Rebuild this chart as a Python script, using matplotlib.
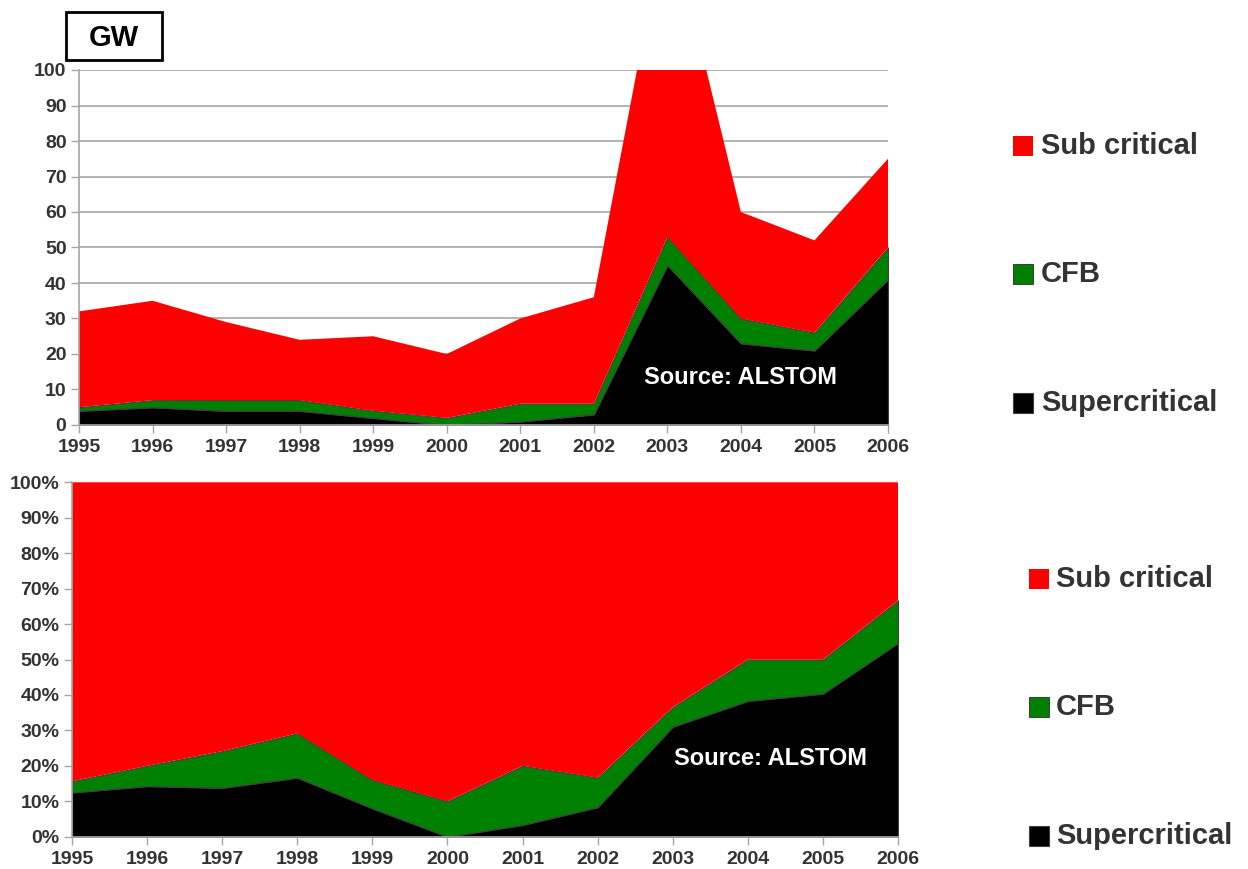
import matplotlib
matplotlib.use("Agg")
import matplotlib.pyplot as plt
from matplotlib.patches import Rectangle
import numpy as np

plt.rcParams['font.family'] = ['Liberation Sans', 'DejaVu Sans']
plt.rcParams['font.weight'] = 'bold'

years = [1995, 1996, 1997, 1998, 1999, 2000, 2001, 2002, 2003, 2004, 2005, 2006]
supercritical = [4, 5, 4, 4, 2, 0, 1, 3, 45, 23, 21, 41]
cfb = [1, 2, 3, 3, 2, 2, 5, 3, 8, 7, 5, 9]
sub_critical = [27, 28, 22, 17, 21, 18, 24, 30, 92, 30, 26, 25]
series_names = ["Supercritical", "CFB", "Sub critical"]
series_colors = ["#000000", "#008000", "#FF0000"]

W, H = 1248, 869
fig = plt.figure(figsize=(W / 100, H / 100), dpi=100)

TXT = "#333333"
GRID = "#A6A6A6"


def style_axes(ax):
    for s in ("top", "right"):
        ax.spines[s].set_visible(False)
    for s in ("left", "bottom"):
        ax.spines[s].set_color(GRID)
        ax.spines[s].set_linewidth(1.2)
    ax.tick_params(axis="both", colors=GRID, labelcolor=TXT, labelsize=14,
                   length=6, width=1.0, direction="out")
    ax.tick_params(axis="y", pad=3)
    ax.tick_params(axis="x", pad=4)
    ax.set_xlim(years[0], years[-1])
    ax.set_xticks(years)
    ax.set_xticklabels([str(y) for y in years], fontweight="bold")


# ---------- Top chart (GW) ----------
ax1 = fig.add_axes([79 / W, 1 - 425 / H, (888 - 79) / W, (425 - 70) / H])
ax1.set_axisbelow(True)
ax1.yaxis.grid(True, color=GRID, linewidth=1.2)
polys1 = ax1.stackplot(years, supercritical, cfb, sub_critical, colors=series_colors)
for p, ec in zip(polys1, ["#404040", "#404040", "none"]):
    p.set_edgecolor(ec)
    p.set_linewidth(0.9)
ax1.set_ylim(0, 100)
ax1.set_yticks(range(0, 101, 10))
ax1.set_yticklabels([str(v) for v in range(0, 101, 10)], fontweight="bold")
style_axes(ax1)
ax1.text(2004.0, 13.5, "Source: ALSTOM", color="white", fontsize=17,
         fontweight="bold", ha="center", va="center")

# GW box
fig.patches.append(Rectangle((66 / W, 1 - 60 / H), 96 / W, 48 / H,
                             transform=fig.transFigure, facecolor="white",
                             edgecolor="black", linewidth=2))
fig.text(114 / W, 1 - 38 / H, "GW", fontsize=21, fontweight="bold", color="black",
         ha="center", va="center")

# ---------- Bottom chart (%) ----------
sup_a = np.array(supercritical, dtype=float)
cfb_a = np.array(cfb, dtype=float)
sub_a = np.array(sub_critical, dtype=float)
total = sup_a + cfb_a + sub_a
ax2 = fig.add_axes([72 / W, 1 - 836.7 / H, (898 - 72) / W, (836.7 - 482.3) / H])
polys2 = ax2.stackplot(years, sup_a / total, cfb_a / total, sub_a / total,
                       colors=series_colors)
for p, ec in zip(polys2, ["#404040", "#404040", "none"]):
    p.set_edgecolor(ec)
    p.set_linewidth(0.9)
ax2.set_ylim(0, 1)
ax2.set_yticks(np.arange(0, 1.01, 0.1))
ax2.set_yticklabels([f"{int(round(v * 100))}%" for v in np.arange(0, 1.01, 0.1)],
                    fontweight="bold")
style_axes(ax2)
ax2.text(2004.3, 0.22, "Source: ALSTOM", color="white", fontsize=17,
         fontweight="bold", ha="center", va="center")

# ---------- Legends ----------
def draw_legend(sq_x, txt_x, ys):
    order = [2, 1, 0]
    for idx, yc in zip(order, ys):
        fig.patches.append(Rectangle((sq_x / W, 1 - (yc + 10) / H), 20 / W, 20 / H,
                                     transform=fig.transFigure,
                                     facecolor=series_colors[idx],
                                     edgecolor="#404040" if idx != 2 else "none",
                                     linewidth=0.8))
        fig.text(txt_x / W, 1 - yc / H, series_names[idx], fontsize=21,
                 fontweight="bold", color=TXT, ha="left", va="center")


draw_legend(1013, 1041, [146, 274, 403])
draw_legend(1029, 1056, [579, 707, 836])

fig.savefig("out.png", dpi=100)
